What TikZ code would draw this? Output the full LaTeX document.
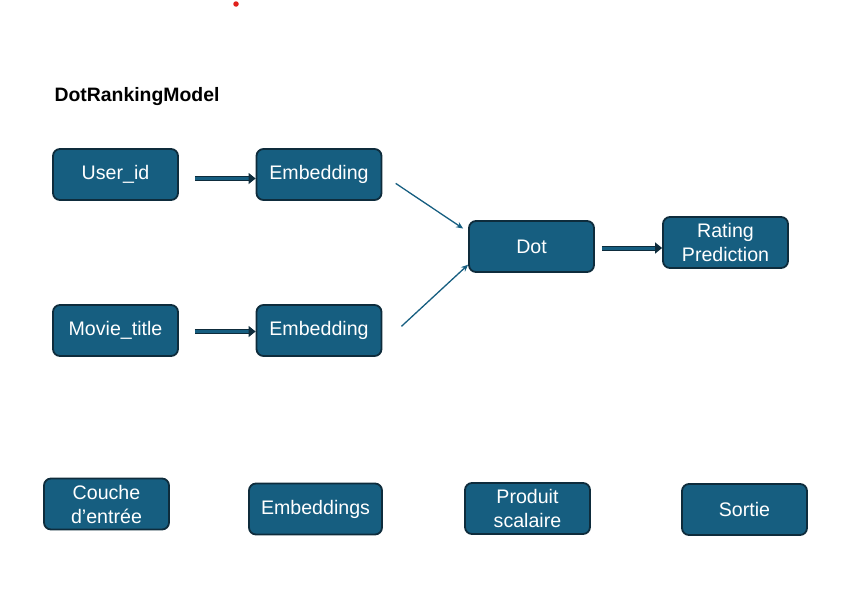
\documentclass[tikz,border=0pt]{standalone}
\usepackage{fontspec}
\setmainfont{Liberation Sans}
\usetikzlibrary{arrows.meta}
\definecolor{boxfill}{HTML}{165E80}
\definecolor{boxline}{HTML}{0E2C3C}
\definecolor{dotred}{HTML}{E0201B}
\begin{document}
\begin{tikzpicture}[x=1pt,y=-1pt,
    block/.style={draw=boxline, fill=boxfill, line width=1.8pt, rounded corners=7pt,
      minimum width=125pt, minimum height=51pt, inner sep=0pt, text=white,
      align=center, font=\fontsize{19.6}{24}\selectfont},
    fat arrow/.style={draw=boxline, line width=1pt, double=boxfill, double distance=3pt,
      -{Triangle[length=7pt,width=11pt]}},
    thin arrow/.style={draw=boxfill, line width=1.3pt, -{Stealth[length=7pt,width=6pt]}}]
  \useasboundingbox (0,0) rectangle (843,597);

  \node[circle, fill=dotred, inner sep=0pt, minimum size=5.5pt](mark) at (236,4){};
  \node[anchor=west, font=\bfseries\fontsize{19.4}{22}\selectfont](title) at (51,97){DotRankingModel};

  % model
  \node[block](user) at (115.5,174.5){User\_id};
  \node[block](emb1) at (319,174.5){Embedding};
  \node[block](movie) at (115.5,330.5){Movie\_title};
  \node[block](emb2) at (319,330.5){Embedding};
  \node[block](dot) at (531.5,246.5){Dot};
  \node[block](rating) at (725.5,242.5){Rating\\Prediction};

  \draw[fat arrow, shorten <=16pt] ([yshift=-4pt]user.east) -- ([yshift=-4pt]emb1.west);
  \draw[fat arrow, shorten <=16pt] ([yshift=-1pt]movie.east) -- ([yshift=-1pt]emb2.west);
  \draw[fat arrow, shorten <=7pt] ([yshift=-1.5pt]dot.east) -- ([yshift=-1.5pt]dot.east -| rating.west);

  \draw[thin arrow, shorten <=16pt, shorten >=6pt] (emb1.east) -- (dot.167);
  \draw[thin arrow, shorten <=26pt] (emb2.-12) -- (dot.196);

  % legend
  \node[block](input) at (106.5,504){Couche\\d'entrée};
  \node[block, minimum width=133pt](embs) at (315.5,509){Embeddings};
  \node[block](prod) at (527.5,508.5){Produit\\scalaire};
  \node[block](out) at (744.5,509.5){Sortie};
\end{tikzpicture}
\end{document}
